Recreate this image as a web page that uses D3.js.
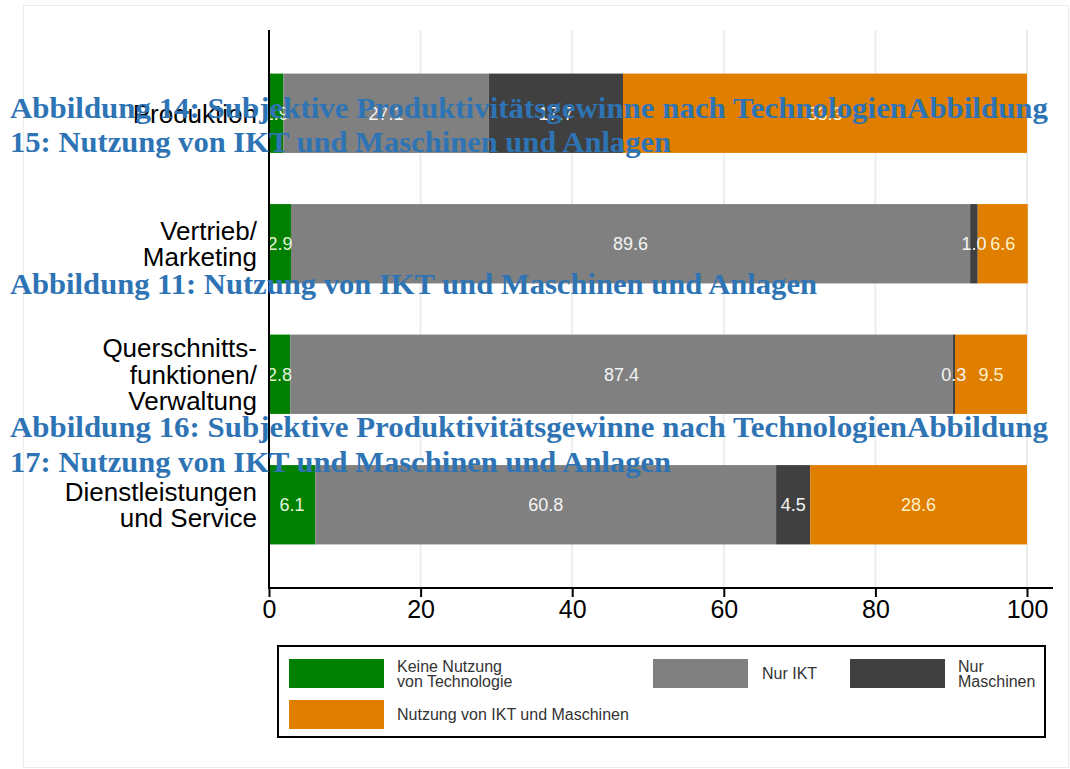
<!DOCTYPE html>
<html>
<head>
<meta charset="utf-8">
<script src="https://cdn.jsdelivr.net/npm/d3@7"></script>
<style>
  body { margin: 0; background: #fff; }
  svg { display: block; }
</style>
</head>
<body>
<div id="chart"></div>
<script>
// categories (top to bottom) and their label lines
const categories = ["Produktion", "Vertrieb", "Querschnitt", "Dienstleistungen"];
const categoryLabels = [
  ["Produktion"],
  ["Vertrieb/", "Marketing"],
  ["Querschnitts-", "funktionen/", "Verwaltung"],
  ["Dienstleistungen", "und Service"]
];

// series values in percent
const keineNutzung = [1.9, 2.9, 2.8, 6.1];
const nurIKT       = [27.1, 89.6, 87.4, 60.8];
const nurMaschinen = [17.7, 1.0, 0.3, 4.5];
const iktUndMasch  = [53.3, 6.6, 9.5, 28.6];

const seriesKeys = ["keine", "ikt", "masch", "beide"];
const seriesNames = ["Keine Nutzung|von Technologie", "Nur IKT", "Nur|Maschinen", "Nutzung von IKT und Maschinen"];
const seriesColors = ["#008000", "#808080", "#404040", "#e07e00"];
const labelColors = ["#e6f2dc", "#f4f4f4", "#f4f4f4", "#fdf0c8"];

const xTicks = [0, 20, 40, 60, 80, 100];

// overlaid caption lines (blue)
const captions = [
  "Abbildung 14: Subjektive Produktivitätsgewinne nach TechnologienAbbildung",
  "15: Nutzung von IKT und Maschinen und Anlagen",
  "Abbildung 11: Nutzung von IKT und Maschinen und Anlagen",
  "Abbildung 16: Subjektive Produktivitätsgewinne nach TechnologienAbbildung",
  "17: Nutzung von IKT und Maschinen und Anlagen"
];
const captionY = [118, 152, 294, 437, 472];
const captionW = [1038, 661, 807, 1038, 661];

const table = categories.map((c, i) => ({
  cat: c,
  keine: keineNutzung[i],
  ikt: nurIKT[i],
  masch: nurMaschinen[i],
  beide: iktUndMasch[i]
}));

const width = 1070, height = 769;
const svg = d3.select("#chart").append("svg")
  .attr("width", width)
  .attr("height", height);

// outer frame
svg.append("rect")
  .attr("x", 23.5).attr("y", 5.5)
  .attr("width", 1045).attr("height", 762)
  .attr("fill", "none")
  .attr("stroke", "#ececec");

const x = d3.scaleLinear().domain([0, 100]).range([269, 1027]);
const y = d3.scaleBand().domain(categories).range([48, 570]).paddingInner(0.392).paddingOuter(0.196);

// grid
svg.append("g")
  .selectAll("line")
  .data(xTicks)
  .join("line")
  .attr("x1", d => x(d)).attr("x2", d => x(d))
  .attr("y1", 30).attr("y2", 588)
  .attr("stroke", "#e9eef0")
  .attr("stroke-width", 2);

// bars
const stack = d3.stack().keys(seriesKeys)(table);

svg.append("g")
  .selectAll("g")
  .data(stack)
  .join("g")
  .attr("fill", (d, i) => seriesColors[i])
  .selectAll("rect")
  .data(d => d)
  .join("rect")
  .attr("x", d => x(d[0]))
  .attr("y", d => y(d.data.cat))
  .attr("width", d => x(d[1]) - x(d[0]))
  .attr("height", y.bandwidth());

// value labels, drawn on top of all segments
const labelData = stack.flatMap((s, i) => s.map(v => ({ v, i })));
svg.append("g")
  .selectAll("text")
  .data(labelData)
  .join("text")
  .attr("x", d => (x(d.v[0]) + x(d.v[1])) / 2)
  .attr("y", d => y(d.v.data.cat) + y.bandwidth() / 2)
  .attr("dy", "0.36em")
  .attr("text-anchor", "middle")
  .attr("fill", d => labelColors[d.i])
  .style("font-family", "Liberation Sans, Arial, sans-serif")
  .style("font-size", "18px")
  .text(d => (d.v[1] - d.v[0]).toFixed(1));

// axes
const xAxis = svg.append("g")
  .attr("transform", "translate(0,588)")
  .call(d3.axisBottom(x).tickValues(xTicks).tickSize(9).tickPadding(3).tickSizeOuter(0));
xAxis.select(".domain").attr("d", "M269,0H1053").attr("stroke", "#000").attr("stroke-width", 2);
xAxis.selectAll(".tick line").attr("stroke", "#000").attr("stroke-width", 2);
xAxis.selectAll(".tick text")
  .attr("fill", "#000")
  .style("font-family", "Liberation Sans, Arial, sans-serif")
  .style("font-size", "25px");

svg.append("line")
  .attr("x1", 269).attr("x2", 269)
  .attr("y1", 30).attr("y2", 589)
  .attr("stroke", "#000")
  .attr("stroke-width", 2);

// category labels
const catG = svg.append("g");
categories.forEach((c, i) => {
  const lines = categoryLabels[i];
  const cy = y(c) + y.bandwidth() / 2;
  const lh = 26.5;
  const t = catG.append("text")
    .attr("text-anchor", "end")
    .attr("fill", "#000")
    .style("font-family", "Liberation Sans, Arial, sans-serif")
    .style("font-size", "26px");
  lines.forEach((l, j) => {
    t.append("tspan")
      .attr("x", 257)
      .attr("y", cy + (j - (lines.length - 1) / 2) * lh)
      .attr("dy", "0.36em")
      .text(l);
  });
});

// legend
const leg = svg.append("g");
leg.append("rect")
  .attr("x", 278).attr("y", 646)
  .attr("width", 767).attr("height", 91)
  .attr("fill", "#fff")
  .attr("stroke", "#000")
  .attr("stroke-width", 2);

const legPos = [
  { x: 289, y: 659, tx: 397 },
  { x: 653, y: 659, tx: 762 },
  { x: 850, y: 659, tx: 958 },
  { x: 289, y: 700, tx: 397 }
];
seriesNames.forEach((name, i) => {
  const p = legPos[i];
  leg.append("rect")
    .attr("x", p.x).attr("y", p.y)
    .attr("width", 95).attr("height", 29)
    .attr("fill", seriesColors[i]);
  const lines = name.split("|");
  const t = leg.append("text")
    .attr("fill", "#333")
    .style("font-family", "Liberation Sans, Arial, sans-serif")
    .style("font-size", "16px");
  lines.forEach((l, j) => {
    t.append("tspan")
      .attr("x", p.tx)
      .attr("y", p.y + 14.5 + (j - (lines.length - 1) / 2) * 15)
      .attr("dy", "0.36em")
      .text(l);
  });
});

// blue caption overlay
svg.append("g")
  .selectAll("text")
  .data(captions)
  .join("text")
  .attr("x", 10)
  .attr("y", (d, i) => captionY[i])
  .attr("textLength", (d, i) => captionW[i])
  .attr("lengthAdjust", "spacingAndGlyphs")
  .attr("fill", "#2e74b5")
  .style("font-family", "Liberation Serif, DejaVu Serif, serif")
  .style("font-weight", "bold")
  .style("font-size", "30px")
  .text(d => d);
</script>
</body>
</html>
